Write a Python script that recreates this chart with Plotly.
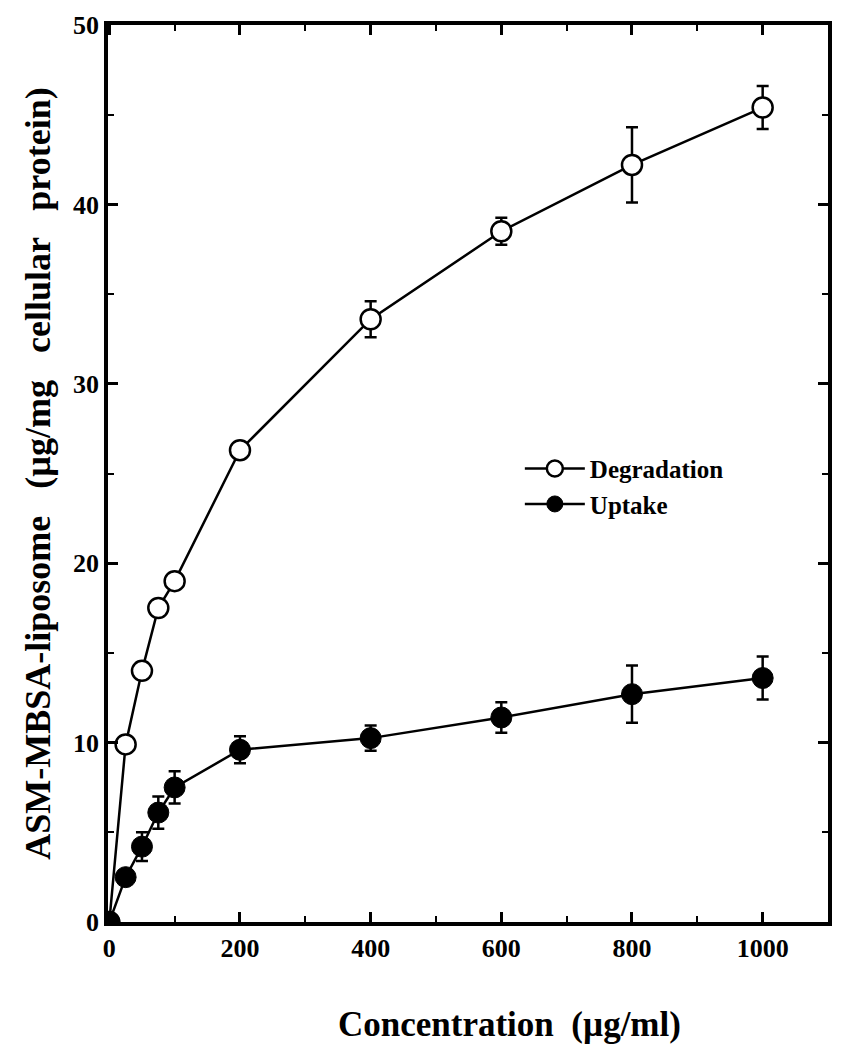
import plotly.graph_objects as go

conc = [0, 25, 50, 75, 100, 200, 400, 600, 800, 1000]
degradation = [0, 9.9, 14.0, 17.5, 19.0, 26.3, 33.6, 38.5, 42.2, 45.4]
degradation_err = [0, 0.3, 0.3, 0.3, 0.3, 0.3, 1.0, 0.75, 2.1, 1.2]
uptake = [0, 2.5, 4.2, 6.1, 7.5, 9.6, 10.25, 11.4, 12.7, 13.6]
uptake_err = [0, 0.3, 0.8, 0.9, 0.9, 0.75, 0.7, 0.85, 1.6, 1.2]

font_family = "Liberation Serif, Times New Roman, serif"

fig = go.Figure()
fig.add_trace(go.Scatter(
    x=conc, y=degradation, name="Degradation", mode="lines+markers",
    line=dict(color="black", width=2.5),
    marker=dict(symbol="circle", size=20, color="white", line=dict(color="black", width=2.5)),
    error_y=dict(type="data", array=degradation_err, color="black", thickness=2.5, width=6),
))
fig.add_trace(go.Scatter(
    x=conc, y=uptake, name="Uptake", mode="lines+markers",
    line=dict(color="black", width=2.5),
    marker=dict(symbol="circle", size=21, color="black", line=dict(color="black", width=1)),
    error_y=dict(type="data", array=uptake_err, color="black", thickness=2.5, width=6),
))

axis_common = dict(
    showline=True, linecolor="black", linewidth=3.5, mirror="ticks",
    ticks="inside", ticklen=10, tickwidth=2.5, tickcolor="black",
    showgrid=False, zeroline=False, automargin=False, ticklabeloverflow="allow",
    tickfont=dict(family=font_family, size=26, color="black", weight="bold"),
)

fig.update_layout(
    width=843, height=1050,
    paper_bgcolor="white", plot_bgcolor="white",
    margin=dict(l=100, r=23, t=17, b=136),
    font=dict(family=font_family, color="black"),
    showlegend=True,
    legend=dict(
        x=0.572, y=0.531, xanchor="left", yanchor="top",
        bgcolor="rgba(0,0,0,0)", borderwidth=0,
        font=dict(family=font_family, size=25, color="black", weight="bold"),
        itemwidth=60, tracegroupgap=4,
    ),
    xaxis=dict(
        range=[-2, 1100], tickvals=[0, 200, 400, 600, 800, 1000],
        minor=dict(ticks="inside", ticklen=6, tickwidth=2, tickcolor="black", dtick=100),
        **axis_common,
    ),
    yaxis=dict(
        range=[0, 50], tickvals=[0, 10, 20, 30, 40, 50],
        minor=dict(ticks="inside", ticklen=6, tickwidth=2, tickcolor="black", dtick=5),
        title=dict(text="ASM-MBSA-liposome   (µg/mg   cellular   protein)", standoff=12,
                   font=dict(family=font_family, size=36, color="black", weight="bold")),
        **axis_common,
    ),
    annotations=[dict(
        text="Concentration  (µg/ml)", xref="paper", yref="paper",
        x=0.558, y=-0.114, xanchor="center", yanchor="middle", showarrow=False,
        font=dict(family=font_family, size=35, color="black", weight="bold"),
    )],
)

fig.write_html("out.html")
